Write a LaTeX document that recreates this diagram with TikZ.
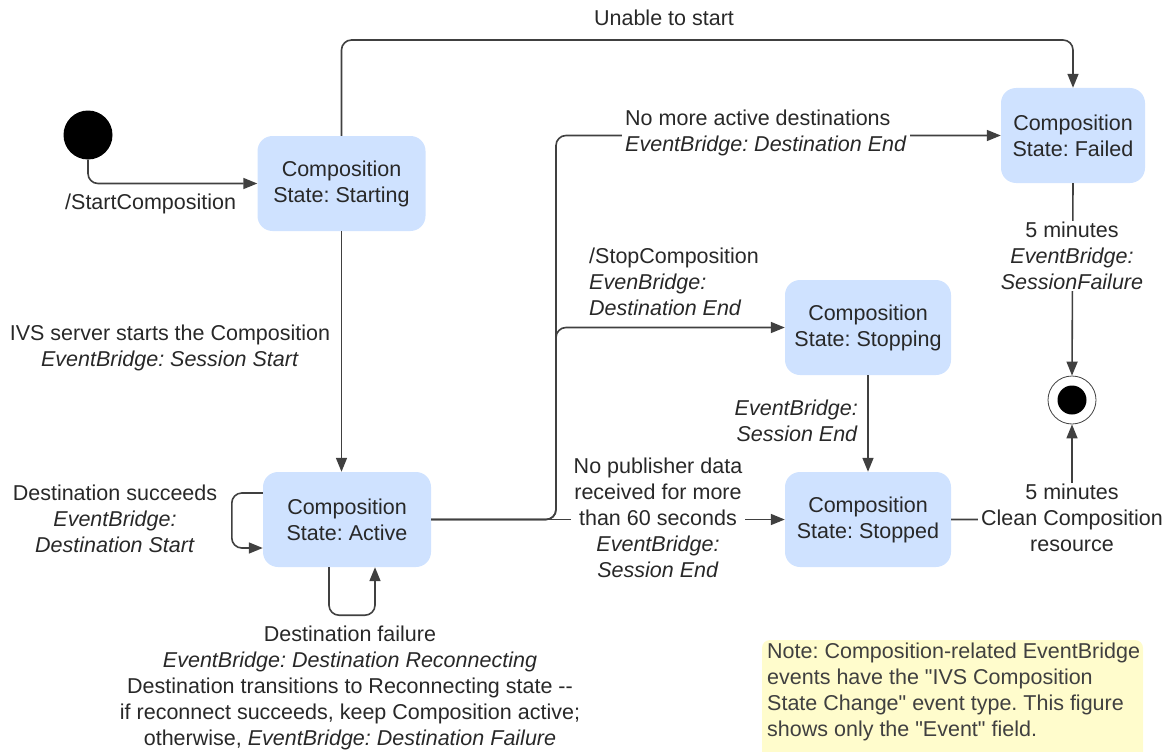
\documentclass[tikz,border=0pt]{standalone}
\usepackage{fontspec}
\setmainfont{Liberation Sans}[Ligatures=TeXOff]
\usetikzlibrary{arrows.meta}
\definecolor{stfill}{RGB}{207,226,255}
\definecolor{notefill}{RGB}{255,252,204}
\definecolor{ln}{RGB}{64,64,64}
\definecolor{tx}{RGB}{40,40,40}
\begin{document}
\frenchspacing
\begin{tikzpicture}[x=1pt,y=-1pt,
  every node/.style={font=\fontsize{21.5}{26}\selectfont, text=tx, inner sep=0pt, align=center},
  state/.style={fill=stfill, rounded corners=15pt, draw=none, minimum width=168pt, minimum height=95pt},
  conn/.style={draw=ln, line width=1.6pt, rounded corners=10pt, -{Triangle[length=14pt,width=11pt]}},
  lab/.style={fill=white, inner xsep=3pt, inner ysep=1pt},
]
\useasboundingbox (0,0) rectangle (1165,752);

% states
\node[state] (starting) at (341.5,183.5) {Composition\\State: Starting};
\node[state, minimum width=144pt] (failed) at (1073,135.5) {Composition\\State: Failed};
\node[state, minimum width=166pt] (stopping) at (868,327.5) {Composition\\State: Stopping};
\node[state] (active) at (347,519.5) {Composition\\State: Active};
\node[state, minimum width=166pt] (stopped) at (868,519.5) {Composition\\State: Stopped};
\node[circle, fill=black, minimum size=49pt] (init) at (88,135) {};
\node[circle, draw=ln, line width=0.8pt, minimum size=48pt] (final) at (1072,400) {};
\node[circle, fill=black, minimum size=29pt] (finaldot) at (1072,400) {};

\coordinate (topy) at (0,40);
\coordinate (jx) at (556,519.5);

% connectors
\draw[conn] (init.south) |- (starting.west);
\draw[conn] (starting.north) |- (topy -| failed.north) -- (failed.north);
\draw[conn] (starting.south) -- (starting.south |- active.north);
\draw[conn] (active.east) -- (jx) |- (failed.west);
\draw[conn] (active.east) -- (jx) |- (stopping.west);
\draw[conn] (active.east) -- (stopped.west);
\draw[conn] (stopping.south) -- (stopped.north);
\draw[conn] (stopped.east) -| (final.south);
\draw[conn] (failed.south) -- (final.north);
\draw[conn] ([yshift=26.5pt]active.west) -- ++(-31,0) -- ++(0,55) -- ([yshift=-28.5pt]active.west);
\draw[conn] ([xshift=-18pt]active.south) -- ++(0,48) -- ++(46,0) -- ([xshift=28pt]active.south);

% labels
\node[anchor=west] (lstart) at (65,204) {/StartComposition};
\node (lunable) at (664,18) {Unable to start};
\node (livs) at (170,348) {IVS server starts the Composition\\\textit{EventBridge: Session Start}};
\node[lab, anchor=west, align=left] (lnomore) at (622,132.5) {No more active destinations\\\textit{EventBridge: Destination End}};
\node[anchor=west, align=left] (lstop) at (589,282) {/StopComposition\\\textit{EvenBridge:}\\\textit{Destination End}};
\node[lab] (lnopub) at (658,518) {No publisher data\\received for more\\than 60 seconds\\\textit{EventBridge:}\\\textit{Session End}};
\node[anchor=east, align=right] (lsessend) at (858,420.5) {\textit{EventBridge:}\\\textit{Session End}};
\node[lab] (lclean) at (1072,517.5) {5 minutes\\Clean Composition\\resource};
\node[lab] (lfail) at (1072,256) {5 minutes\\\textit{EventBridge:}\\\textit{SessionFailure}};
\node (lsucc) at (115,518.5) {Destination succeeds\\\textit{EventBridge:}\\\textit{Destination Start}};
\node (lfailure) at (350,688) {Destination failure\\\textit{EventBridge: Destination Reconnecting}\\Destination transitions to Reconnecting state -\kern0pt-\\if reconnect succeeds, keep Composition active;\\otherwise, \textit{EventBridge: Destination Failure}};

% note
\fill[notefill, rounded corners=8pt] (762,640) rectangle (1143,775);
\node[anchor=north west, align=left, text=ln] (note) at (767,643) {Note: Composition-related EventBridge\\events have the "IVS Composition\\State Change" event type. This figure\\shows only the "Event" field.};
\end{tikzpicture}
\end{document}
